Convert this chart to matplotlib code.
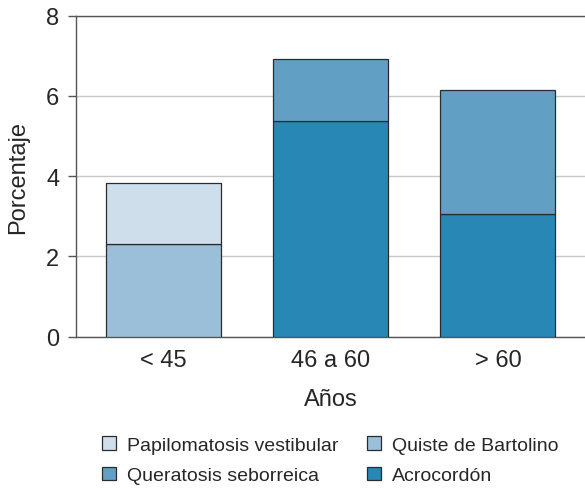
import matplotlib
matplotlib.use("Agg")
import matplotlib.pyplot as plt
from matplotlib.patches import Patch
import numpy as np

plt.rcParams['font.family'] = ['Liberation Sans', 'DejaVu Sans']

# Age groups and stacked percentages per lesion type
categories = ["< 45", "46 a 60", "> 60"]
acrocordon = [0.0, 5.38, 3.06]
queratosis = [0.0, 1.55, 3.10]
quiste = [2.32, 0.0, 0.0]
papilomatosis = [1.51, 0.0, 0.0]

series = [
    ("Acrocordón", acrocordon, "#2887b5"),
    ("Queratosis seborreica", queratosis, "#619fc5"),
    ("Quiste de Bartolino", quiste, "#9bbfd9"),
    ("Papilomatosis vestibular", papilomatosis, "#cfdeeb"),
]

text_color = "#262626"
spine_color = "#555555"

fig = plt.figure(figsize=(5.85, 4.89), dpi=100)
ax = fig.add_axes([76 / 585, 1 - 337.7 / 489, 1 - 76 / 585, (337.7 - 16.7) / 489])

x = np.arange(len(categories))
bottom = np.zeros(len(categories))
for name, vals, color in series:
    vals = np.asarray(vals, dtype=float)
    mask = vals > 0
    ax.bar(x[mask], vals[mask], bottom=bottom[mask], width=0.687, color=color,
           edgecolor="#2b2b2b", linewidth=0.9, zorder=3)
    bottom += vals

ax.set_xlim(-0.52, 2.52)
ax.set_ylim(0, 8)
ax.set_yticks([0, 2, 4, 6, 8])
ax.set_xticks(x)
ax.set_xticklabels(categories)

ax.yaxis.grid(True, color="#c8c8c8", linewidth=1.0, zorder=0)
ax.set_axisbelow(True)

for side in ["right"]:
    ax.spines[side].set_visible(False)
for side in ["left", "bottom", "top"]:
    ax.spines[side].set_color(spine_color)
    ax.spines[side].set_linewidth(1.0)

ax.tick_params(axis="y", length=6, width=1.0, color=spine_color,
               labelsize=17, labelcolor=text_color, pad=6)
ax.tick_params(axis="x", length=0, labelsize=17, labelcolor=text_color, pad=9)

ax.set_ylabel("Porcentaje", fontsize=17, color=text_color, labelpad=12)
ax.set_xlabel("Años", fontsize=17, color=text_color, labelpad=12)

# Legend laid out row by row: Papilomatosis / Quiste, Queratosis / Acrocordón
legend_order = ["Papilomatosis vestibular", "Queratosis seborreica",
                "Quiste de Bartolino", "Acrocordón"]
colors = {name: color for name, _, color in series}
handles = [Patch(facecolor=colors[n], edgecolor="#2b2b2b", linewidth=0.9)
           for n in legend_order]
fig.legend(handles, legend_order, ncol=2, loc="upper left",
           bbox_to_anchor=(102 / 585, 1 - 437 / 489), frameon=False,
           fontsize=14, labelcolor=text_color, handlelength=0.7,
           handleheight=0.7, handletextpad=0.6, columnspacing=1.45,
           labelspacing=0.68, borderpad=0.0, borderaxespad=0.0)

fig.savefig("out.png", dpi=100)
